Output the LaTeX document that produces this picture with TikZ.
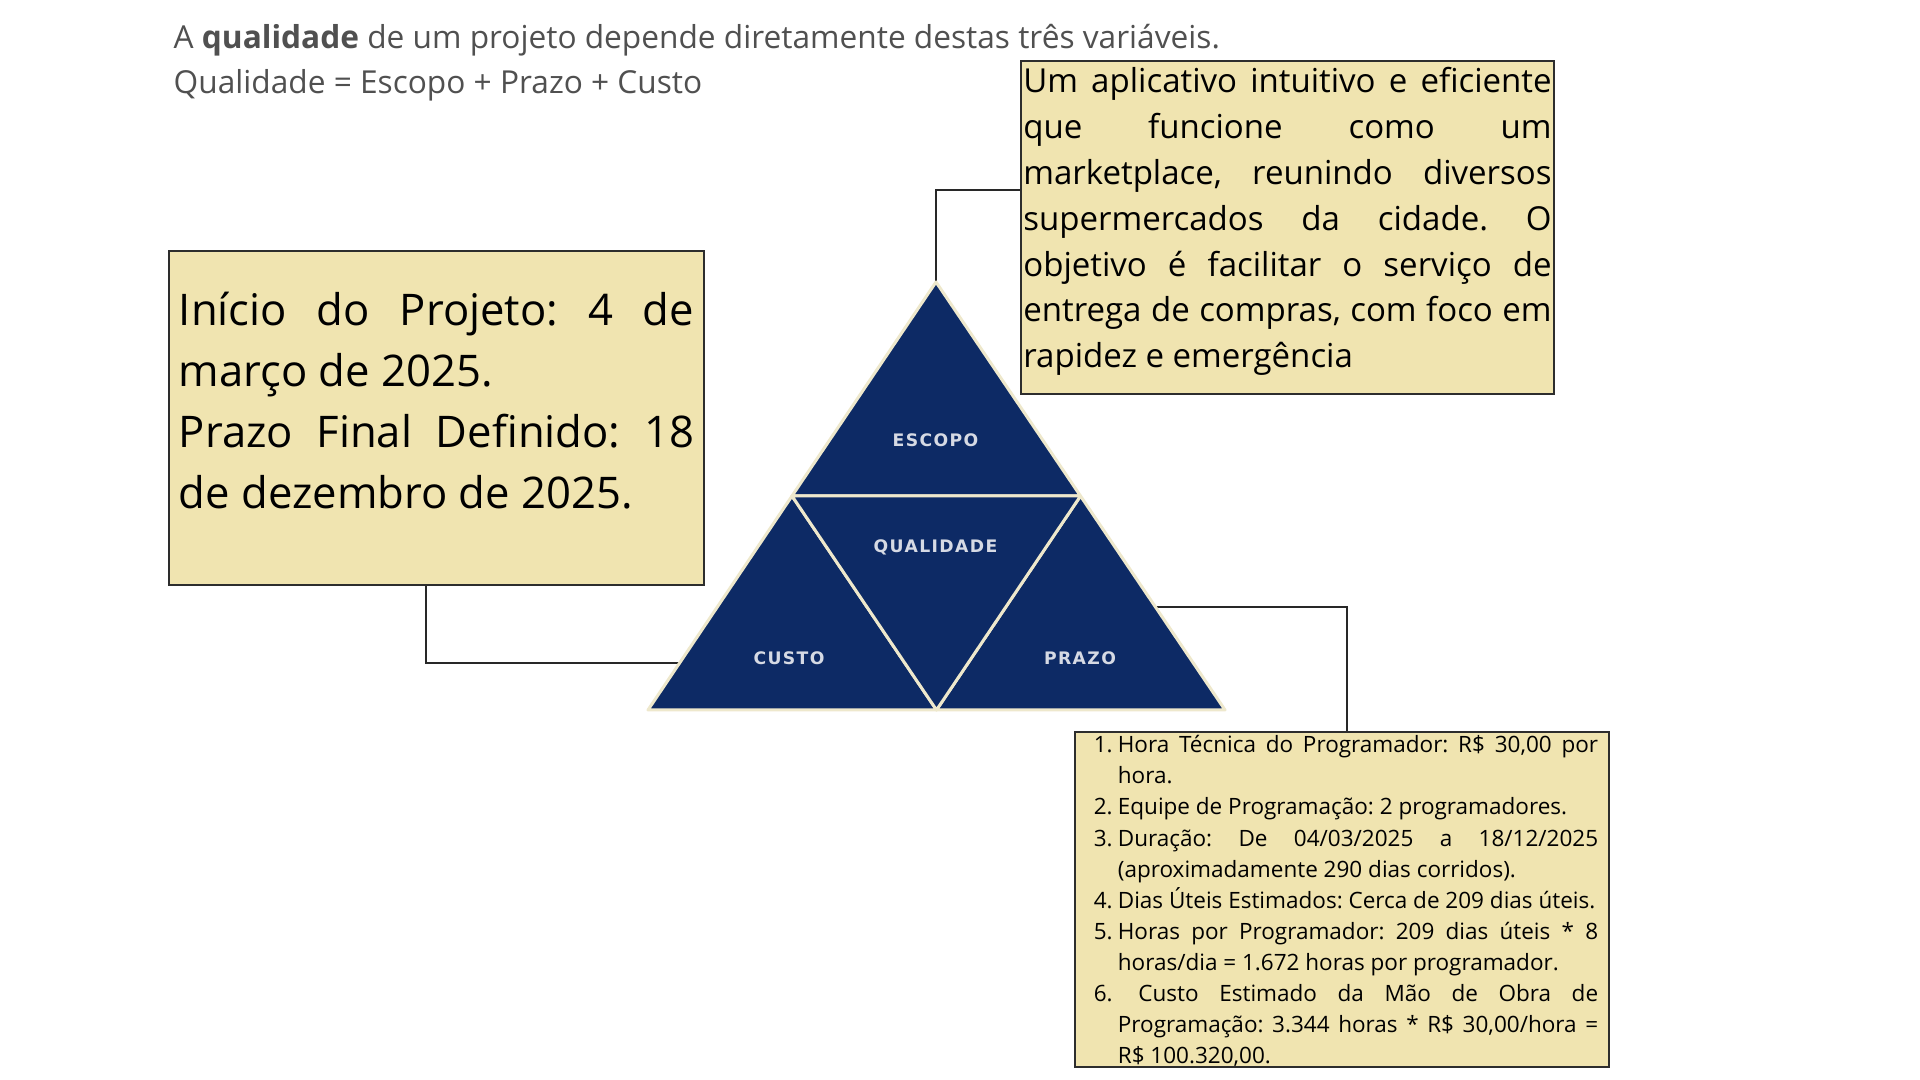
\documentclass[tikz,border=0pt]{standalone}
\usepackage{fontspec}
\setmainfont{Open Sans}
\newfontfamily\labelfont{DejaVu Sans}[LetterSpace=8]
\usetikzlibrary{calc,positioning}

\definecolor{navy}{RGB}{13,42,101}
\definecolor{cream}{RGB}{238,232,204}
\definecolor{boxfill}{RGB}{240,228,176}
\definecolor{boxline}{RGB}{45,45,45}
\definecolor{linegray}{RGB}{40,40,40}
\definecolor{headgray}{RGB}{80,80,80}
\definecolor{labelgray}{RGB}{214,218,228}

\frenchspacing
\hyphenpenalty=10000
\hbadness=10000

\newcommand{\costitem}[2]{\par\noindent\hangindent=0.24cm\hangafter=1\makebox[0.24cm][l]{#1}#2\par}

\begin{document}
\begin{tikzpicture}[x=0.01cm,y=-0.01cm,
  note/.style={draw=boxline,line width=0.02cm,fill=boxfill,align=justify,inner ysep=0pt},
  conn/.style={draw=linegray,line width=0.02cm},
  part/.style={fill=navy,draw=cream,line width=0.03cm,line join=round},
  partlabel/.style={text=labelgray,inner sep=0pt,font=\labelfont\bfseries\fontsize{4.9}{6}\selectfont},
  headline/.style={anchor=base west,inner sep=0pt,text=headgray,font=\fontsize{9.0}{11}\selectfont}]
  \path[fill=white] (0,0) rectangle (1920,1080);
  \useasboundingbox (0,0) rectangle (1920,1080);

  % header
  \node[headline] (headA) at (173,49) {A \textbf{qualidade} de um projeto depende diretamente destas três variáveis.};
  \node[headline] (headB) at (173,94) {Qualidade = Escopo + Prazo + Custo};

  % boxes
  \node[note,text width=5.28cm,inner xsep=0.025cm,minimum height=3.33cm,
    font=\fontsize{9.39}{13.06}\selectfont] (scope) at (1287.5,227.5)
    {Um aplicativo intuitivo e eficiente\linebreak
     que funcione como um\linebreak
     marketplace, reunindo diversos\linebreak
     supermercados da cidade. O\linebreak
     objetivo é facilitar o serviço de\linebreak
     entrega de compras, com foco em\linebreak
     rapidez e emergência\rule[-0.20cm]{0pt}{0.20cm}};

  \node[note,text width=5.15cm,inner xsep=0.10cm,minimum height=3.34cm,
    font=\fontsize{12.4}{17.36}\selectfont] (datebox) at (436.5,418)
    {Início do Projeto: 4 de\linebreak março de 2025.\par
     Prazo Final Definido: 18\linebreak de dezembro de 2025.\rule[-0.36cm]{0pt}{0.36cm}};

  \node[note,text width=5.12cm,inner xsep=0.11cm,minimum height=3.35cm,
    font=\fontsize{6.4}{8.82}\selectfont] (costbox) at (1342,899.5)
    {\leftskip=0.08cm\vspace*{-0.11cm}%
     \costitem{1.}{Hora Técnica do Programador: R\$ 30,00 por\linebreak hora.}%
     \costitem{2.}{Equipe de Programação: 2 programadores.}%
     \costitem{3.}{Duração: De 04/03/2025 a 18/12/2025\linebreak (aproximadamente 290 dias corridos).}%
     \costitem{4.}{Dias Úteis Estimados: Cerca de 209 dias úteis.}%
     \costitem{5.}{Horas por Programador: 209 dias úteis * 8\linebreak horas/dia = 1.672 horas por programador.}%
     \costitem{6.}{\ Custo Estimado da Mão de Obra de\linebreak Programação: 3.344 horas * R\$ 30,00/hora =\linebreak R\$ 100.320,00.}};

  % triangle corners
  \coordinate (apex) at (936,282);
  \coordinate (bl) at (648,710);
  \coordinate (br) at (1225,710);
  \coordinate (lm) at ($(apex)!0.5!(bl)$);
  \coordinate (rm) at ($(apex)!0.5!(br)$);
  \coordinate (bm) at ($(bl)!0.5!(br)$);
  \coordinate (custoin) at ($(bl)!0.22!(lm)$);
  \coordinate (prazoout) at ($(br)!0.481!(rm)$);

  % connectors
  \draw[conn] (apex) |- ([yshift=0.37cm]scope.west);
  \draw[conn] ([xshift=-0.105cm]datebox.south) |- (custoin);
  \draw[conn] (prazoout) -| ([xshift=0.05cm]costbox.north);

  % triangle parts
  \path[part] (apex) -- (lm) -- (rm) -- cycle;
  \path[part] (lm) -- (bl) -- (bm) -- cycle;
  \path[part] (rm) -- (bm) -- (br) -- cycle;
  \path[part] (lm) -- (rm) -- (bm) -- cycle;

  \node[partlabel] (escopo) at (935.5,440) {ESCOPO};
  \node[partlabel] (qualidade) at (935.5,547) {QUALIDADE};
  \node[partlabel] (custo) at (789,658) {CUSTO};
  \node[partlabel] (prazo) at (1080,658) {PRAZO};
\end{tikzpicture}
\end{document}
